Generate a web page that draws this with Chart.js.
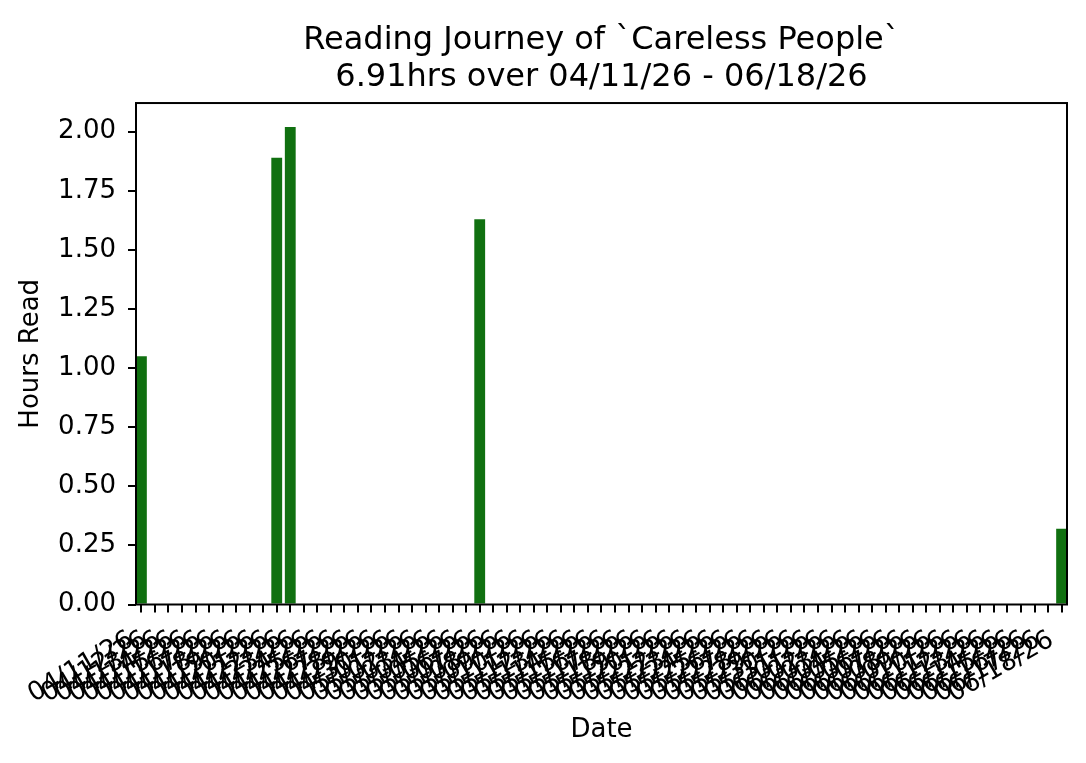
<!DOCTYPE html>
<html>
<head>
<meta charset="utf-8">
<script src="https://cdn.jsdelivr.net/npm/chart.js@4/dist/chart.umd.min.js"></script>
<style>
  body { margin: 0; background: #fff; }
  #wrap { width: 1086px; height: 763px; }
</style>
</head>
<body>
<div id="wrap"><canvas id="readingChart"></canvas></div>
<script>
// Days in the reading window (one bar slot per day)
const dates = [
  '04/11/26', '04/12/26', '04/13/26', '04/14/26', '04/15/26', '04/16/26', '04/17/26',
  '04/18/26', '04/19/26', '04/20/26', '04/21/26', '04/22/26', '04/23/26', '04/24/26',
  '04/25/26', '04/26/26', '04/27/26', '04/28/26', '04/29/26', '04/30/26', '05/01/26',
  '05/02/26', '05/03/26', '05/04/26', '05/05/26', '05/06/26', '05/07/26', '05/08/26',
  '05/09/26', '05/10/26', '05/11/26', '05/12/26', '05/13/26', '05/14/26', '05/15/26',
  '05/16/26', '05/17/26', '05/18/26', '05/19/26', '05/20/26', '05/21/26', '05/22/26',
  '05/23/26', '05/24/26', '05/25/26', '05/26/26', '05/27/26', '05/28/26', '05/29/26',
  '05/30/26', '05/31/26', '06/01/26', '06/02/26', '06/03/26', '06/04/26', '06/05/26',
  '06/06/26', '06/07/26', '06/08/26', '06/09/26', '06/10/26', '06/11/26', '06/12/26',
  '06/13/26', '06/14/26', '06/15/26', '06/16/26', '06/17/26', '06/18/26'
];

// Hours read on each day
const hoursRead = [
  1.05, 0, 0, 0, 0, 0, 0,
  0, 0, 0, 1.89, 2.02, 0, 0,
  0, 0, 0, 0, 0, 0, 0,
  0, 0, 0, 0, 1.63, 0, 0,
  0, 0, 0, 0, 0, 0, 0,
  0, 0, 0, 0, 0, 0, 0,
  0, 0, 0, 0, 0, 0, 0,
  0, 0, 0, 0, 0, 0, 0,
  0, 0, 0, 0, 0, 0, 0,
  0, 0, 0, 0, 0, 0.32
];

// y axis tick values
const yTicks = [0, 0.25, 0.5, 0.75, 1.0, 1.25, 1.5, 1.75, 2.0];

const titleLines = ['Reading Journey of `Careless People`', '6.91hrs over 04/11/26 - 06/18/26'];

const fontFamily = '"DejaVu Sans", sans-serif';

// Draws the box around the plot area (like matplotlib spines)
const frame = {
  id: 'frame',
  afterDatasetsDraw(chart) {
    const { ctx, chartArea: a } = chart;
    ctx.save();
    ctx.strokeStyle = '#000';
    ctx.lineWidth = 2;
    ctx.strokeRect(a.left, a.top, a.right - a.left, a.bottom - a.top);
    ctx.restore();
  }
};

const ctx = document.getElementById('readingChart').getContext('2d');
new Chart(ctx, {
  type: 'bar',
  data: {
    datasets: [{
      data: dates.map((d, i) => ({ x: i, y: hoursRead[i] })),
      backgroundColor: '#107010',
      borderWidth: 0,
      barPercentage: 0.8,
      categoryPercentage: 1.0
    }]
  },
  options: {
    responsive: true,
    maintainAspectRatio: false,
    animation: false,
    devicePixelRatio: 1,
    layout: { padding: { left: 0, right: 19, top: 0, bottom: 0 } },
    plugins: {
      legend: { display: false },
      tooltip: { enabled: false },
      title: {
        display: true,
        fullSize: false,
        text: titleLines,
        color: '#000',
        font: { family: fontFamily, size: 32, weight: 'normal', lineHeight: 1.16 },
        padding: { top: 22, bottom: 6.8 }
      }
    },
    scales: {
      x: {
        type: 'linear',
        min: -0.4,
        max: 68.4,
        offset: false,
        afterFit: (scale) => {
          scale.height = 158.5;
          // keep the plot edges fixed; labels may overhang
          scale.paddingLeft = 0;
          scale.paddingRight = 0;
        },
        grid: { offset: false, drawOnChartArea: false, drawTicks: true, tickLength: 8, color: '#000', lineWidth: 2 },
        border: { display: false },
        ticks: {
          stepSize: 1,
          includeBounds: false,
          autoSkip: false,
          minRotation: 30,
          maxRotation: 30,
          padding: 12,
          labelOffset: -10,
          color: '#000',
          font: { family: fontFamily, size: 26 },
          callback: (value) => dates[value] ?? ''
        },
        title: {
          display: true,
          text: 'Date',
          color: '#000',
          font: { family: fontFamily, size: 26 },
          padding: { top: 0, bottom: 17 }
        }
      },
      y: {
        min: 0,
        max: 2.121,
        afterFit: (scale) => { scale.width = 136; },
        afterBuildTicks: (scale) => { scale.ticks = yTicks.map(v => ({ value: v })); },
        grid: { drawOnChartArea: false, drawTicks: true, tickLength: 8, color: '#000', lineWidth: 2 },
        border: { display: false },
        ticks: {
          stepSize: 0.25,
          includeBounds: false,
          padding: 12,
          color: '#000',
          font: { family: fontFamily, size: 26 },
          callback: (value) => Number(value).toFixed(2)
        },
        title: {
          display: true,
          text: 'Hours Read',
          color: '#000',
          font: { family: fontFamily, size: 26 },
          padding: { top: 16, bottom: 0 }
        }
      }
    }
  },
  plugins: [frame]
});
</script>
</body>
</html>
